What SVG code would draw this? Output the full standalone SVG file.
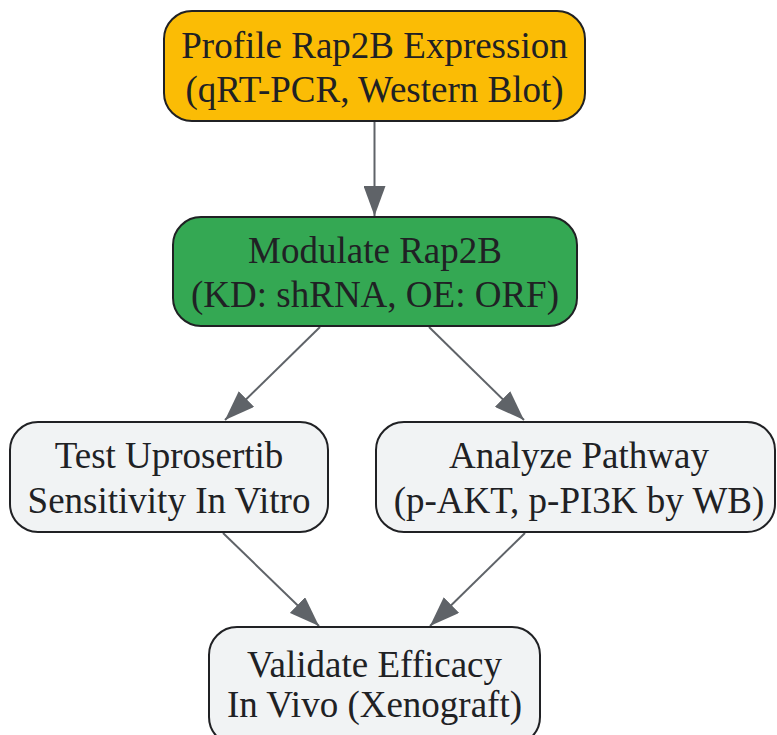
<svg xmlns="http://www.w3.org/2000/svg" width="777" height="735" viewBox="0 0 777 735">
<style>
.box{stroke:#202124;stroke-width:2}
.t{font-family:"Liberation Serif","Times New Roman",serif;font-size:37px;fill:#202124;text-anchor:middle}
.edge{stroke:#5F6368;stroke-width:2;fill:none}
</style>
<defs>
<marker id="ah" viewBox="0 0 30 22" refX="30" refY="11" markerWidth="30" markerHeight="22" markerUnits="userSpaceOnUse" orient="auto">
<path d="M0,0 L30,11 L0,22 Z" fill="#5F6368"/>
</marker>
</defs>
<g id="connectors">
<line class="edge" x1="374.5" y1="121" x2="374.5" y2="216" marker-end="url(#ah)"/>
<line class="edge" x1="320" y1="327" x2="225" y2="420" marker-end="url(#ah)"/>
<line class="edge" x1="429" y1="327" x2="524" y2="420" marker-end="url(#ah)"/>
<line class="edge" x1="223" y1="533" x2="319" y2="626" marker-end="url(#ah)"/>
<line class="edge" x1="525" y1="533" x2="430" y2="626" marker-end="url(#ah)"/>
</g>
<g id="n1">
<rect class="box" x="164" y="11" width="421" height="110" rx="28" fill="#FBBC05"/>
<text class="t" x="374.5" y="58">Profile Rap2B Expression</text>
<text class="t" x="374.5" y="102">(qRT-PCR, Western Blot)</text>
</g>
<g id="n2">
<rect class="box" x="173" y="217" width="404" height="109" rx="28" fill="#34A853"/>
<text class="t" x="375" y="263">Modulate Rap2B</text>
<text class="t" x="375" y="307">(KD: shRNA, OE: ORF)</text>
</g>
<g id="n3">
<rect class="box" x="10" y="422" width="318" height="110" rx="28" fill="#F1F3F4"/>
<text class="t" x="169" y="468">Test Uprosertib</text>
<text class="t" x="169" y="513">Sensitivity In Vitro</text>
</g>
<g id="n4">
<rect class="box" x="376" y="422" width="399" height="110" rx="28" fill="#F1F3F4"/>
<text class="t" x="579" y="468">Analyze Pathway</text>
<text class="t" x="579" y="513">(p-AKT, p-PI3K by WB)</text>
</g>
<g id="n5">
<rect class="box" x="209" y="627" width="331" height="118" rx="28" fill="#F1F3F4"/>
<text class="t" x="374.5" y="677">Validate Efficacy</text>
<text class="t" x="374.5" y="717">In Vivo (Xenograft)</text>
</g>
</svg>
